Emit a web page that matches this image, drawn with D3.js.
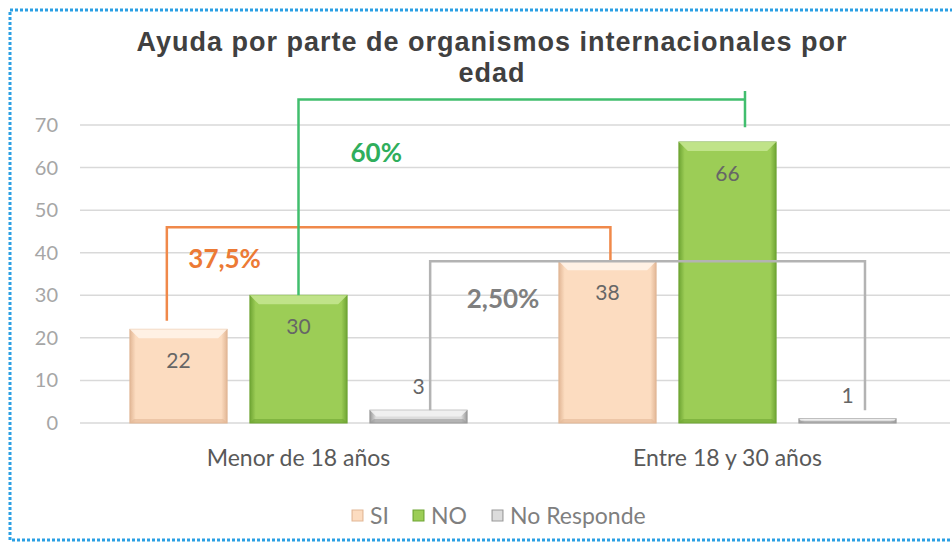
<!DOCTYPE html>
<html>
<head>
<meta charset="utf-8">
<style>
  body { margin: 0; background: #fff; }
  svg { display: block; }
  text { font-family: Lato, "Open Sans", sans-serif; }
</style>
</head>
<body>
<svg id="chart" width="952" height="542"></svg>
<script src="https://cdn.jsdelivr.net/npm/d3@7"></script>
<script>

// data
var categories = ['Menor de 18 años', 'Entre 18 y 30 años'];
var series = ['SI', 'NO', 'No Responde'];
var valuesSI = [22, 38];
var valuesNO = [30, 66];
var valuesNR = [3, 1];
var yTicks = [0, 10, 20, 30, 40, 50, 60, 70];
var titleLines = ['Ayuda por parte de organismos internacionales por', 'edad'];

// bracket annotations: [category index, fraction across bar, value]
var bracketLabels = ['37,5%', '60%', '2,50%'];
var bracketSeries = ['SI', 'NO', 'No Responde'];
var bracketStart = [[0, 0.38, 24], [0, 0.5, 30], [0, 0.62, 3]];
var bracketTop = [46, 76, 38];
var bracketEnd = [[1, 0.53, 38], [1, 0.68, 69.5], [1, 0.68, 3]];
var bracketLabelPos = [[0, 'NO', -0.26, 38.5], [0, 'NO', 1.3, 63.5], [0, 'No Responde', 1.37, 29.2]];

var colors = {
  'SI': { mid: '#fcdcc0', edge: '#e2b796', hi: '#fff3e8' },
  'NO': { mid: '#9ccd56', edge: '#6fa534', hi: '#c4e58f' },
  'No Responde': { mid: '#dcdcdc', edge: '#9a9a9a', hi: '#f2f2f2' }
};
var lineColors = ['#f0894a', '#41be6e', '#b3b3b3'];
var textColors = ['#ec7a35', '#2fae5c', '#7f7f7f'];

var svg = d3.select('#chart');

var rows = categories.map(function(c, i) {
  return { cat: c, values: [
    { key: 'SI', value: valuesSI[i] },
    { key: 'NO', value: valuesNO[i] },
    { key: 'No Responde', value: valuesNR[i] }
  ]};
});

var x0 = d3.scaleBand().domain(categories).range([84, 942])
    .paddingInner(0.214).paddingOuter(0.107);
var x1 = d3.scaleBand().domain(series).range([0, x0.bandwidth()])
    .paddingInner(0.19).paddingOuter(0);
var y = d3.scaleLinear().domain([0, 70]).range([423, 125]);

// gradients
var defs = svg.append('defs');
series.forEach(function(s, i) {
  var g = defs.append('linearGradient').attr('id', 'grad' + i)
      .attr('x1', 0).attr('x2', 1).attr('y1', 0).attr('y2', 0);
  g.append('stop').attr('offset', '0%').attr('stop-color', colors[s].edge);
  g.append('stop').attr('offset', '6%').attr('stop-color', colors[s].mid);
  g.append('stop').attr('offset', '94%').attr('stop-color', colors[s].mid);
  g.append('stop').attr('offset', '100%').attr('stop-color', colors[s].edge);
});

// outer dotted frame
svg.append('rect')
    .attr('x', 10).attr('y', 10).attr('width', 960).attr('height', 530)
    .style('fill', 'none')
    .style('stroke', '#2a9fe4')
    .style('stroke-width', 3)
    .style('stroke-dasharray', '3,2');

// title, one text per line so the lines stay apart
svg.append('g').selectAll('text').data(titleLines).enter().append('text')
    .attr('x', 492).attr('y', function(d, i) { return 51 + i * 31; })
    .attr('text-anchor', 'middle')
    .style('font-family', '"Liberation Sans", Arial, sans-serif')
    .style('font-size', '27px').style('font-weight', 'bold')
    .style('letter-spacing', '1px')
    .style('fill', '#404040')
    .text(function(d) { return d; });

// gridlines + y ticks
svg.append('g').selectAll('line').data(yTicks).enter().append('line')
    .attr('x1', 80).attr('x2', 950)
    .attr('y1', function(d) { return y(d); }).attr('y2', function(d) { return y(d); })
    .style('stroke', '#d9d9d9').style('stroke-width', 1.5);

svg.append('g').selectAll('text').data(yTicks).enter().append('text')
    .attr('x', 58).attr('y', function(d) { return y(d) + 7; })
    .attr('text-anchor', 'end')
    .style('font-size', '20px').style('fill', '#a6a6a6')
    .text(function(d) { return d; });

// bars
var groups = svg.append('g').selectAll('g').data(rows).enter().append('g')
    .attr('transform', function(d) { return 'translate(' + x0(d.cat) + ',0)'; });

var bars = groups.selectAll('g.bar').data(function(d) { return d.values; })
    .enter().append('g').attr('class', 'bar');

bars.append('rect')
    .attr('x', function(d) { return x1(d.key); })
    .attr('y', function(d) { return y(d.value); })
    .attr('width', x1.bandwidth())
    .attr('height', function(d) { return y(0) - y(d.value); })
    .style('fill', function(d) { return 'url(#grad' + series.indexOf(d.key) + ')'; })
    .style('stroke', function(d) { return colors[d.key].edge; })
    .style('stroke-width', 1);

// top bevel highlight
bars.append('path')
    .attr('d', function(d) {
      var xl = x1(d.key), xr = xl + x1.bandwidth(), t = y(d.value);
      var b = Math.min(9, (y(0) - t) / 2);
      return 'M' + xl + ',' + t + 'L' + xr + ',' + t + 'L' + (xr - b) + ',' + (t + b) +
             'L' + (xl + b) + ',' + (t + b) + 'Z';
    })
    .style('fill', function(d) { return colors[d.key].hi; })
    .style('opacity', 0.9);

// bottom bevel shadow
bars.append('path')
    .attr('d', function(d) {
      var xl = x1(d.key), xr = xl + x1.bandwidth(), bt = y(0);
      var b = Math.min(4, (bt - y(d.value)) / 2);
      return 'M' + xl + ',' + bt + 'L' + xr + ',' + bt + 'L' + (xr - b) + ',' + (bt - b) +
             'L' + (xl + b) + ',' + (bt - b) + 'Z';
    })
    .style('fill', function(d) { return colors[d.key].edge; })
    .style('opacity', 0.6);

// value labels
bars.append('text')
    .attr('x', function(d) { return x1(d.key) + x1.bandwidth() / 2; })
    .attr('y', function(d) {
      return d.key === 'No Responde' ? y(d.value) - 16 : y(d.value) + 39;
    })
    .attr('text-anchor', 'middle')
    .style('font-size', '21px').style('fill', '#666')
    .text(function(d) { return d.value; });

// category labels
svg.append('g').selectAll('text').data(categories).enter().append('text')
    .attr('x', function(d) { return x0(d) + x0.bandwidth() / 2; })
    .attr('y', 466)
    .attr('text-anchor', 'middle')
    .style('font-size', '23px').style('fill', '#595959')
    .text(function(d) { return d; });

// annotation brackets
function bx(ci, s, f) {
  return x0(categories[ci]) + x1(s) + f * x1.bandwidth();
}
bracketLabels.forEach(function(lbl, i) {
  var s = bracketSeries[i];
  var st = bracketStart[i], en = bracketEnd[i];
  var xa = bx(st[0], s, st[1]), xb = bx(en[0], s, en[1]);
  var pts = [[xa, y(st[2])], [xa, y(bracketTop[i])], [xb, y(bracketTop[i])], [xb, y(en[2])]];
  if (i === 1) pts.push([xb, y(bracketTop[i])], [xb, y(bracketTop[i] + 2)]);
  svg.append('path')
      .attr('d', d3.line()(pts))
      .style('fill', 'none')
      .style('stroke', lineColors[i])
      .style('stroke-width', 2.5);
  var lp = bracketLabelPos[i];
  svg.append('text')
      .attr('x', bx(lp[0], lp[1], lp[2]))
      .attr('y', y(lp[3]) + 9)
      .attr('text-anchor', 'middle')
      .style('font-size', '26px').style('font-weight', 'bold')
      .style('fill', textColors[i])
      .text(lbl);
});

// legend
var legendX = [352, 413, 492];
var legend = svg.append('g').selectAll('g').data(series).enter().append('g')
    .attr('transform', function(d, i) { return 'translate(' + legendX[i] + ',510)'; });
legend.append('rect')
    .attr('width', 11).attr('height', 11)
    .style('fill', function(d, i) { return 'url(#grad' + i + ')'; })
    .style('stroke', function(d) { return colors[d].edge; });
legend.append('text')
    .attr('x', 18).attr('y', 14)
    .style('font-size', '23px').style('fill', '#7f7f7f')
    .text(function(d) { return d; });

</script>
</body>
</html>
